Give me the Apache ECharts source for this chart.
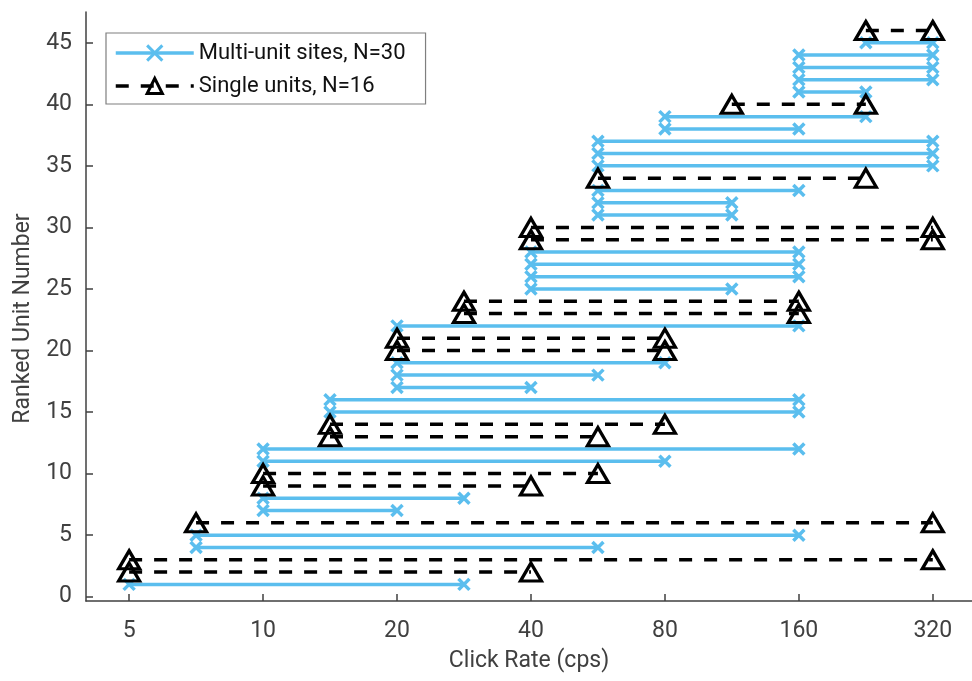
<!DOCTYPE html>
<html>
<head>
<meta charset="utf-8">
<script src="https://cdn.jsdelivr.net/npm/echarts@6/dist/echarts.min.js"></script>
<style>html,body{margin:0;padding:0;background:#fff;}#chart{width:972px;height:681px;}</style>
</head>
<body>
<div id="chart"></div>
<script>
// ---- data ----
const xTicks = [5, 10, 20, 40, 80, 160, 320];
const yTicks = [0, 5, 10, 15, 20, 25, 30, 35, 40, 45];

const multiName = 'Multi-unit sites, N=30';
const multiRank = [1,4,5,7,8,11,12,15,16,17,18,19,22,25,26,27,28,31,32,33,35,36,37,38,39,41,42,43,44,45];
const multiLow  = [5,7.07,7.07,10,10,10,10,14.14,14.14,20,20,20,20,40,40,40,40,56.57,56.57,56.57,56.57,56.57,56.57,80,80,160,160,160,160,226.3];
const multiHigh = [28.28,56.57,160,20,28.28,80,160,160,160,40,56.57,80,160,113.1,160,160,160,113.1,113.1,160,320,320,320,160,226.3,226.3,320,320,320,320];

const singleName = 'Single units, N=16';
const singleRank = [2,3,6,9,10,13,14,20,21,23,24,29,30,34,40,46];
const singleLow  = [5,5,7.07,10,10,14.14,14.14,20,20,28.28,28.28,40,40,56.57,113.1,226.3];
const singleHigh = [40,320,320,40,56.57,56.57,80,80,80,160,160,320,320,226.3,226.3,320];

// ---- build segment data (breaks between rows) ----
function segments(rank, low, high) {
  const out = [];
  for (let i = 0; i < rank.length; i++) {
    out.push([low[i], rank[i]]);
    out.push([high[i], rank[i]]);
    out.push(['-', '-']);
  }
  return out;
}

const blue = '#5bbeee';
const axisColor = '#404040';
const font = 'Roboto';

const chart = echarts.init(document.getElementById('chart'), null, {renderer: 'canvas'});
chart.setOption({
  animation: false,
  backgroundColor: '#fff',
  textStyle: {fontFamily: font},
  grid: {left: 86, right: 0, top: 12, bottom: 80, containLabel: false},
  legend: {
    orient: 'vertical',
    left: 106, top: 33,
    padding: [9, 20, 7, 8],
    itemWidth: 78, itemHeight: 19, itemGap: 11,
    backgroundColor: '#fff',
    borderColor: '#7f7f7f', borderWidth: 1.2,
    lineStyle: {width: 3.5},
    itemStyle: {borderWidth: 3},
    textStyle: {fontSize: 22, color: '#111', fontFamily: font},
    data: [multiName, singleName]
  },
  xAxis: {
    type: 'log', logBase: 2, min: 4, max: 392,
    name: 'Click Rate (cps)', nameLocation: 'middle', nameGap: 49,
    nameTextStyle: {fontSize: 23, color: axisColor, fontFamily: font},
    axisLine: {show: true, onZero: false, lineStyle: {color: axisColor, width: 1.5}},
    axisTick: {show: true, inside: true, length: 7, customValues: xTicks, lineStyle: {color: axisColor, width: 1.5}},
    axisLabel: {customValues: xTicks, margin: 19, fontSize: 23, color: axisColor, fontFamily: font},
    splitLine: {show: false},
    minorTick: {show: false}
  },
  yAxis: {
    type: 'value', min: -0.35, max: 47.5,
    name: 'Ranked Unit Number', nameLocation: 'middle', nameGap: 51,
    nameTextStyle: {fontSize: 23, color: axisColor, fontFamily: font, padding: [0, 24, 0, 0]},
    axisLine: {show: true, onZero: false, lineStyle: {color: axisColor, width: 1.5}},
    axisTick: {show: true, inside: true, length: 7, customValues: yTicks, lineStyle: {color: axisColor, width: 1.5}},
    axisLabel: {customValues: yTicks, margin: 14, fontSize: 23, color: axisColor, fontFamily: font},
    splitLine: {show: false}
  },
  series: [
    {
      name: multiName, type: 'line',
      data: segments(multiRank, multiLow, multiHigh),
      connectNulls: false, showSymbol: true, showAllSymbol: true,
      symbol: 'path://M0,0L10,10M10,0L0,10', symbolSize: 11,
      lineStyle: {color: blue, width: 3.5},
      itemStyle: {color: blue, borderColor: blue, borderWidth: 3.5},
      emphasis: {disabled: true}, z: 2
    },
    {
      name: singleName, type: 'line',
      data: segments(singleRank, singleLow, singleHigh),
      connectNulls: false, showSymbol: true, showAllSymbol: true,
      symbol: 'triangle', symbolSize: [21, 18],
      lineStyle: {color: '#000', width: 3.5, type: [13, 12]},
      itemStyle: {color: 'rgba(0,0,0,0)', borderColor: '#000', borderWidth: 3.2},
      emphasis: {disabled: true}, z: 3
    }
  ]
});
</script>
</body>
</html>
